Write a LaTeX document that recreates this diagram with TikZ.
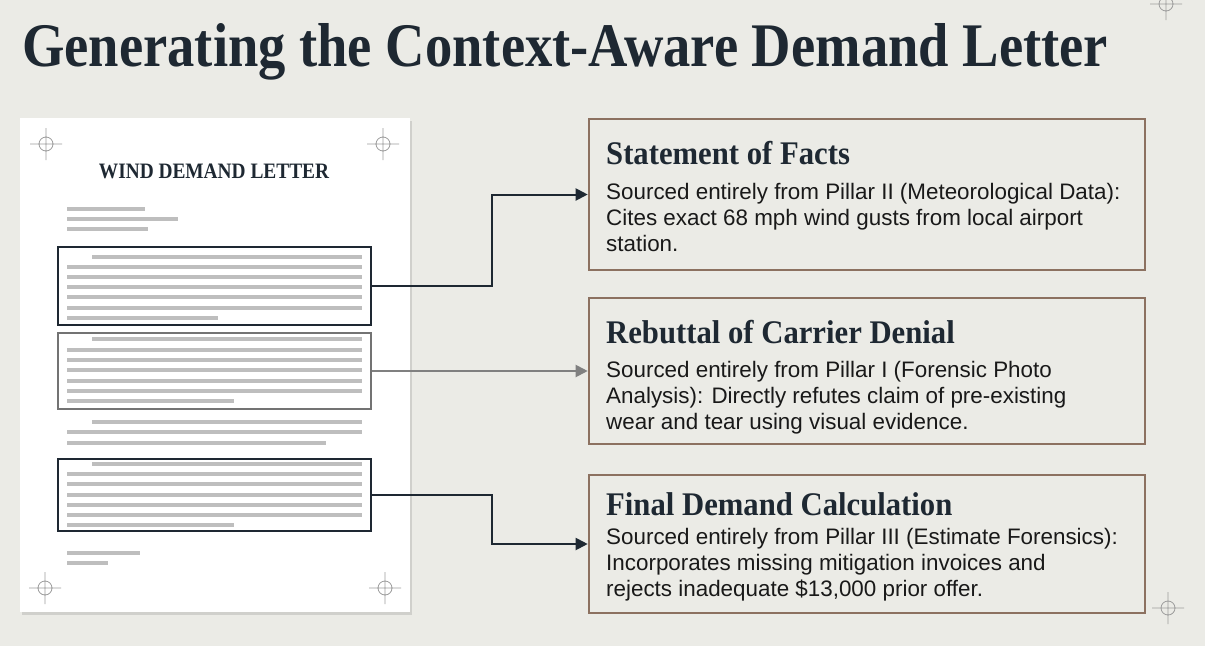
\documentclass[tikz,border=0pt]{standalone}
\usepackage{fontspec}
\setmainfont{Liberation Sans}
\newfontfamily\titlefont[FakeStretch=0.88]{Liberation Serif}
\newfontfamily\headfont[FakeStretch=0.93]{Liberation Serif}
\usetikzlibrary{arrows.meta,positioning,shadows}
\definecolor{bg}{HTML}{EBEBE6}
\definecolor{ink}{HTML}{1E2832}
\definecolor{frame}{HTML}{8C7160}
\definecolor{rule}{HTML}{BEBEBE}
\definecolor{reggray}{HTML}{9C9C9C}

\begin{document}
\begin{tikzpicture}[
  x=1pt, y=-1pt,
  page/.style={fill=white, draw=none, minimum width=390pt, minimum height=494pt,
               drop shadow={shadow xshift=2pt, shadow yshift=-3pt, opacity=0.25}},
  sect/.style={draw=ink, line width=2.2pt, minimum width=313pt, inner sep=0pt},
  faint/.style={sect, draw=black!55},
  card/.style={draw=frame, line width=2.6pt, minimum width=556pt, inner sep=0pt},
  head/.style={anchor=base west, inner sep=0pt, text=ink,
               font=\headfont\bfseries\fontsize{33}{38}\selectfont},
  body/.style={anchor=base west, inner sep=0pt, text=black!90, align=left,
               font=\fontsize{22.4}{26}\selectfont},
  arr/.style={-{Triangle[length=12pt, width=12pt]}, draw=ink, line width=2pt},
  soft/.style={arr, draw=black!50},
  regmark/.style={draw=reggray, line width=0.8pt}
]
\useasboundingbox (0,0) rectangle (1205,646);
\fill[bg] (0,0) rectangle (1205,646);

% title
\node[anchor=base west, inner sep=0pt, text=ink,
      font=\titlefont\bfseries\fontsize{62}{70}\selectfont] (title) at (22,66)
  {Generating the Context-Aware Demand Letter};

% background marks
\foreach \mx/\my in {1166/4, 1168/608}
  \draw[regmark] (\mx,\my) circle (7) (\mx-16,\my) -- (\mx+16,\my) (\mx,\my-16) -- (\mx,\my+16);

% the letter
\node[page] (letter) at (215,365) {};
\foreach \mx/\my in {46/144, 383/144, 45/588, 385/588}
  \draw[regmark] (\mx,\my) circle (7) (\mx-16,\my) -- (\mx+16,\my) (\mx,\my-16) -- (\mx,\my+16);
\node[text=ink, inner sep=0pt, anchor=base,
      font=\titlefont\bfseries\fontsize{22}{26}\selectfont] (ltitle) at (214,178) {WIND DEMAND LETTER};

% text rules of the letter
\foreach \ry/\ra/\rb in {209/67/145, 219/67/178, 229/67/148,
    257/92/362, 267/67/362, 277/67/362, 287/67/362, 297/67/362, 308/67/362, 318/67/218,
    339/92/362, 350/67/362, 360/67/362, 370/67/362, 381/67/362, 391/67/362, 401/67/234,
    422/92/362, 432/67/362, 443/67/326,
    464/92/362, 474/67/362, 484/67/362, 495/67/362, 505/67/362, 515/67/362, 525/67/234,
    553/67/140, 563/67/108}
  \draw[rule, line width=4pt] (\ra,\ry) -- (\rb,\ry);

\node[sect, minimum height=78pt] (facts) at (214.5,286) {};
\node[faint, minimum height=76pt] (rebut) at (214.5,371) {};
\node[sect, minimum height=72pt] (calc) at (214.5,495) {};

% cards
\node[card, minimum height=151pt] (cardA) at (867,194.5) {};
\node[card, minimum height=146pt] (cardB) at (867,371) {};
\node[card, minimum height=138pt] (cardC) at (867,544) {};

% base of a body node is its last line
\node[head] (hA) at (606,164) {Statement of Facts};
\node[body] (tA) at (606,251) {Sourced entirely from Pillar II (Meteorological Data):\\
  Cites exact 68 mph wind gusts from local airport\\ station.};
\node[head] (hB) at (606,343) {Rebuttal of Carrier Denial};
\node[body] (tB) at (606,429) {Sourced entirely from Pillar I (Forensic Photo\\
  Analysis): Directly refutes claim of pre-existing\\ wear and tear using visual evidence.};
\node[head] (hC) at (606,515) {Final Demand Calculation};
\node[body] (tC) at (606,596) {Sourced entirely from Pillar III (Estimate Forensics):\\
  Incorporates missing mitigation invoices and\\ rejects inadequate \$13,000 prior offer.};

% connectors
\draw[arr] (facts.east) -- ++(120,0) |- (cardA.west);
\draw[soft] (rebut.east) -- (cardB.west);
\draw[arr] (calc.east) -- ++(120,0) |- (cardC.west);
\end{tikzpicture}
\end{document}
